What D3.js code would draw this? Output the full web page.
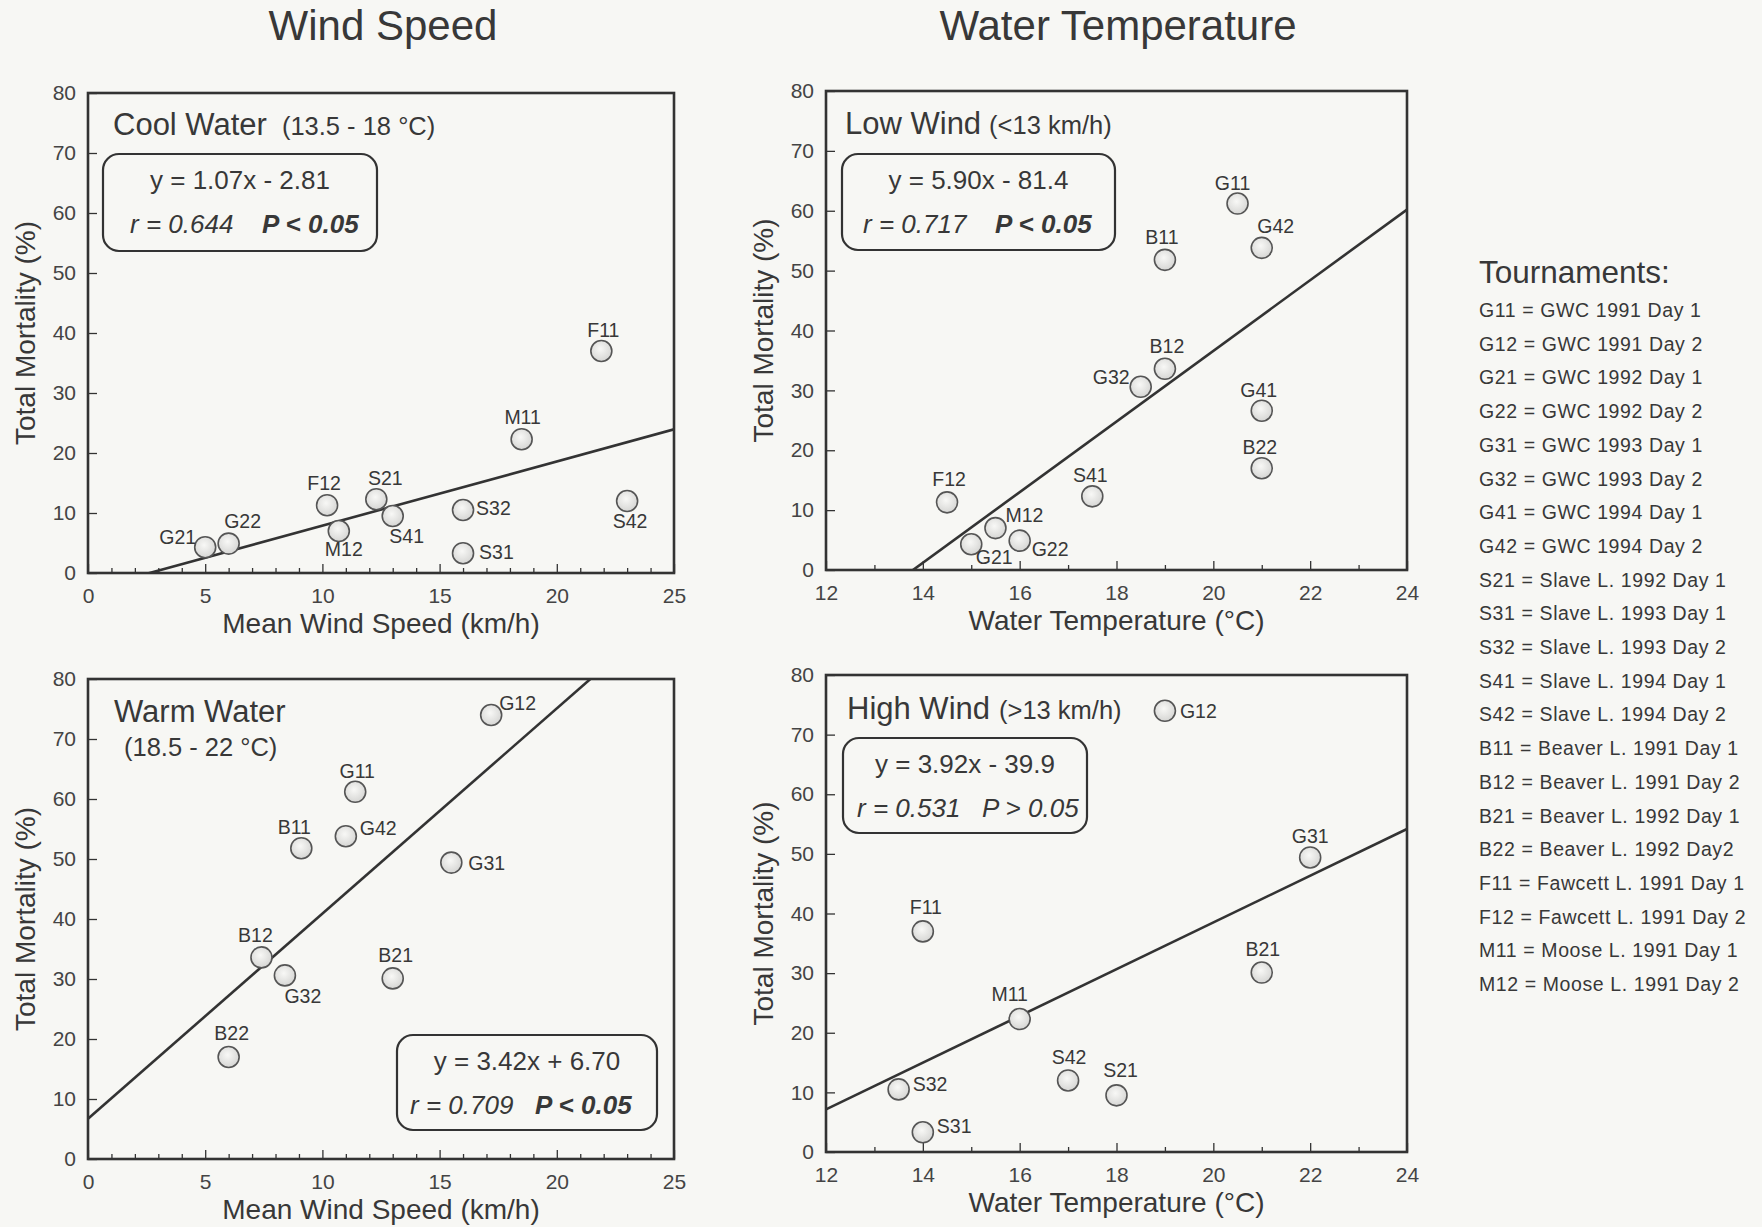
<!DOCTYPE html>
<html><head><meta charset="utf-8">
<script src="https://cdn.jsdelivr.net/npm/d3@7"></script>
<style>
body{margin:0;background:#f7f7f4;}
svg{display:block;font-family:"Liberation Sans",Arial,Helvetica,sans-serif;}
</style>
</head><body>
<svg id="chart" width="1762" height="1227"></svg>
<script>
// ---------- DATA ----------
const windTicks = [0, 5, 10, 15, 20, 25];
const tempTicks = [12, 14, 16, 18, 20, 22, 24];
const mortTicks = [0, 10, 20, 30, 40, 50, 60, 70, 80];

const coolIds  = ["G21","G22","F12","M12","S21","S41","S32","S31","M11","F11","S42"];
const coolWind = [5.0, 6.0, 10.2, 10.7, 12.3, 13.0, 16.0, 16.0, 18.5, 21.9, 23.0];
const coolMort = [4.3, 4.9, 11.3, 7.0, 12.3, 9.5, 10.5, 3.3, 22.3, 37.0, 12.0];

const lowIds  = ["F12","G21","M12","G22","S41","G32","B12","B11","G11","G42","G41","B22"];
const lowTemp = [14.5, 15.0, 15.5, 16.0, 17.5, 18.5, 19.0, 19.0, 20.5, 21.0, 21.0, 21.0];
const lowMort = [11.3, 4.3, 7.0, 4.9, 12.3, 30.6, 33.6, 51.8, 61.2, 53.8, 26.6, 17.0];

const warmIds  = ["B22","B12","G32","B11","G42","G11","B21","G31","G12"];
const warmWind = [6.0, 7.4, 8.4, 9.1, 11.0, 11.4, 13.0, 15.5, 17.2];
const warmMort = [17.0, 33.6, 30.6, 51.8, 53.8, 61.2, 30.1, 49.4, 74.0];

const highIds  = ["S32","S31","F11","M11","S42","S21","G12","B21","G31"];
const highTemp = [13.5, 14.0, 14.0, 16.0, 17.0, 18.0, 19.0, 21.0, 22.0];
const highMort = [10.5, 3.3, 37.0, 22.3, 12.0, 9.5, 74.0, 30.1, 49.4];

const slopes     = [1.07, 5.90, 3.42, 3.92];
const intercepts = [-2.81, -81.4, 6.70, -39.9];
const equations  = ["y = 1.07x - 2.81", "y = 5.90x - 81.4", "y = 3.42x + 6.70", "y = 3.92x - 39.9"];
const rTexts     = ["r = 0.644", "r = 0.717", "r = 0.709", "r = 0.531"];
const pTexts     = ["P < 0.05", "P < 0.05", "P < 0.05", "P > 0.05"];
const pSignificant = [true, true, true, false];

const panelTitles    = ["Cool Water", "Low Wind", "Warm Water", "High Wind"];
const panelSubtitles = ["(13.5 - 18 °C)", "(<13 km/h)", "(18.5 - 22 °C)", "(>13 km/h)"];
const columnTitles   = ["Wind Speed", "Water Temperature"];
const xTitles        = ["Mean Wind Speed (km/h)", "Water Temperature (°C)"];
const yTitle         = "Total Mortality (%)";

const legendTitle = "Tournaments:";
const legendItems = [
  "G11 = GWC 1991 Day 1","G12 = GWC 1991 Day 2","G21 = GWC 1992 Day 1","G22 = GWC 1992 Day 2",
  "G31 = GWC 1993 Day 1","G32 = GWC 1993 Day 2","G41 = GWC 1994 Day 1","G42 = GWC 1994 Day 2",
  "S21 = Slave L. 1992 Day 1","S31 = Slave L. 1993 Day 1","S32 = Slave L. 1993 Day 2",
  "S41 = Slave L. 1994 Day 1","S42 = Slave L. 1994 Day 2","B11 = Beaver L. 1991 Day 1",
  "B12 = Beaver L. 1991 Day 2","B21 = Beaver L. 1992 Day 1","B22 = Beaver L. 1992 Day2",
  "F11 = Fawcett L. 1991 Day 1","F12 = Fawcett L. 1991 Day 2","M11 = Moose L. 1991 Day 1",
  "M12 = Moose L. 1991 Day 2"
];

// ---------- LAYOUT (positions / styles) ----------
const labelOffsets = [
  {G21:[-9,-3,"end"],G22:[14,-16,"middle"],F12:[-3,-15,"middle"],M12:[5,25,"middle"],S21:[9,-14,"middle"],
   S41:[14,27,"middle"],S32:[13,5,"start"],S31:[16,6,"start"],M11:[1,-15,"middle"],F11:[2,-14,"middle"],S42:[3,27,"middle"]},
  {F12:[2,-16,"middle"],G21:[23,20,"middle"],M12:[10,-6,"start"],G22:[12,15,"start"],S41:[-2,-14,"middle"],
   G32:[-11,-3,"end"],B12:[2,-16,"middle"],B11:[-3,-16,"middle"],G11:[-5,-14,"middle"],G42:[14,-15,"middle"],
   G41:[-3,-14,"middle"],B22:[-2,-14,"middle"]},
  {G12:[8,-5,"start"],G11:[2,-14,"middle"],B11:[-7,-14,"middle"],G42:[14,-1,"start"],G31:[17,7,"start"],
   B12:[-6,-15,"middle"],G32:[18,28,"middle"],B21:[3,-16,"middle"],B22:[3,-17,"middle"]},
  {G12:[15,7,"start"],F11:[3,-17,"middle"],M11:[-10,-18,"middle"],S32:[14,2,"start"],S31:[14,1,"start"],
   S42:[1,-16,"middle"],S21:[4,-18,"middle"],B21:[1,-17,"middle"],G31:[0,-14,"middle"]}
];

const panels = [
  {ids:coolIds, xs:coolWind, ys:coolMort, xTicks:windTicks, minorStep:1, left:88,  right:674,  top:93,  bottom:573, col:0,
   title:[25,42], sub:{dx:15}, box:{x:15,y:61,w:274,h:97,r:27,p:159}},
  {ids:lowIds, xs:lowTemp, ys:lowMort, xTicks:tempTicks, minorStep:1, left:826, right:1407, top:91,  bottom:570, col:1,
   title:[19,43], sub:{dx:8}, box:{x:16,y:63,w:273,h:96,r:21,p:153}},
  {ids:warmIds, xs:warmWind, ys:warmMort, xTicks:windTicks, minorStep:1, left:88,  right:674,  top:679, bottom:1159, col:0,
   title:[26,43], sub:{newline:true,x:36,y:77}, box:{x:309,y:356,w:260,h:95,r:13,p:138}},
  {ids:highIds, xs:highTemp, ys:highMort, xTicks:tempTicks, minorStep:1, left:826, right:1407, top:675, bottom:1152, col:1,
   title:[21,44], sub:{dx:9}, box:{x:17,y:63,w:244,h:95,r:14,p:139}}
];

const ink = "#333";
const textInk = "#383838";

const svg = d3.select("#chart");
svg.append("rect").attr("width",1762).attr("height",1227).attr("fill","#f7f7f4");

const defs = svg.append("defs");
const grad = defs.append("radialGradient").attr("id","bub").attr("cx","45%").attr("cy","40%").attr("r","60%");
grad.append("stop").attr("offset","0%").attr("stop-color","#f8f8f6");
grad.append("stop").attr("offset","100%").attr("stop-color","#d6d6d4");

// column titles
[383, 1118].forEach((cx,i)=>{
  svg.append("text").attr("x",cx).attr("y",40).attr("text-anchor","middle")
    .attr("font-size",42).attr("fill",textInk).text(columnTitles[i]);
});

panels.forEach((p,i)=>{
  const xDom = [p.xTicks[0], p.xTicks[p.xTicks.length-1]];
  const x = d3.scaleLinear().domain(xDom).range([p.left,p.right]);
  const y = d3.scaleLinear().domain([0,80]).range([p.bottom,p.top]);
  const g = svg.append("g");
  const W = p.right-p.left, H = p.bottom-p.top;

  defs.append("clipPath").attr("id","clip"+i).append("rect")
    .attr("x",p.left).attr("y",p.top).attr("width",W).attr("height",H);

  // minor x ticks (inward)
  const minor = d3.range(xDom[0], xDom[1]+0.001, p.minorStep).filter(v=>!p.xTicks.includes(v));
  g.append("g").attr("transform",`translate(0,${p.bottom})`)
    .call(d3.axisBottom(x).tickValues(minor).tickSize(-5).tickFormat(""))
    .call(s=>{s.select(".domain").remove(); s.selectAll("line").attr("stroke",ink).attr("stroke-width",1.3);});
  // major x ticks
  g.append("g").attr("transform",`translate(0,${p.bottom})`)
    .call(d3.axisBottom(x).tickValues(p.xTicks).tickSize(-9).tickPadding(15).tickFormat(d3.format("d")))
    .call(s=>{s.select(".domain").remove();
      s.selectAll("line").attr("stroke",ink).attr("stroke-width",1.3);
      s.selectAll("text").attr("font-size",21).attr("fill","#444").attr("font-family","Liberation Sans, Arial, sans-serif");});
  // y ticks
  g.append("g").attr("transform",`translate(${p.left},0)`)
    .call(d3.axisLeft(y).tickValues(mortTicks).tickSize(-9).tickPadding(12).tickFormat(d3.format("d")))
    .call(s=>{s.select(".domain").remove();
      s.selectAll("line").attr("stroke",ink).attr("stroke-width",1.3);
      s.selectAll("text").attr("font-size",21).attr("fill","#444").attr("font-family","Liberation Sans, Arial, sans-serif");});

  // regression line
  const x0 = xDom[0], x1 = xDom[1];
  g.append("line").attr("clip-path",`url(#clip${i})`)
    .attr("x1",x(x0)).attr("y1",y(slopes[i]*x0+intercepts[i]))
    .attr("x2",x(x1)).attr("y2",y(slopes[i]*x1+intercepts[i]))
    .attr("stroke",ink).attr("stroke-width",2.6);

  // frame
  g.append("rect").attr("x",p.left).attr("y",p.top).attr("width",W).attr("height",H)
    .attr("fill","none").attr("stroke",ink).attr("stroke-width",2.6);

  // points
  const pts = p.ids.map((id,k)=>({id, xv:p.xs[k], yv:p.ys[k]}));
  g.selectAll("circle.pt").data(pts).join("circle").attr("class","pt")
    .attr("cx",d=>x(d.xv)).attr("cy",d=>y(d.yv)).attr("r",10.5)
    .attr("fill","url(#bub)").attr("stroke","#555").attr("stroke-width",1.6);
  g.selectAll("text.lbl").data(pts).join("text").attr("class","lbl")
    .attr("x",d=>x(d.xv)+labelOffsets[i][d.id][0])
    .attr("y",d=>y(d.yv)+labelOffsets[i][d.id][1])
    .attr("text-anchor",d=>labelOffsets[i][d.id][2])
    .attr("font-size",19.5).attr("fill",textInk).text(d=>d.id);

  // panel title
  const tx = p.left+p.title[0], ty = p.top+p.title[1];
  const t = g.append("text").attr("x",tx).attr("y",ty).attr("font-size",31).attr("fill",textInk).text(panelTitles[i]);
  if (p.sub.newline) {
    g.append("text").attr("x",p.left+p.sub.x).attr("y",p.top+p.sub.y).attr("font-size",25.5).attr("fill",textInk).text(panelSubtitles[i]);
  } else {
    const tw = t.node().getComputedTextLength();
    g.append("text").attr("x",tx+tw+p.sub.dx).attr("y",ty).attr("font-size",25.5).attr("fill",textInk).text(panelSubtitles[i]);
  }

  // equation box
  const bx = p.left+p.box.x, by = p.top+p.box.y;
  g.append("rect").attr("x",bx).attr("y",by).attr("width",p.box.w).attr("height",p.box.h)
    .attr("rx",16).attr("ry",16).attr("fill","none").attr("stroke",ink).attr("stroke-width",2.2);
  g.append("text").attr("x",bx+p.box.w/2).attr("y",by+35).attr("text-anchor","middle")
    .attr("font-size",26).attr("fill",textInk).text(equations[i]);
  g.append("text").attr("x",bx+p.box.r).attr("y",by+79).attr("font-size",26).attr("font-style","italic")
    .attr("fill",textInk).text(rTexts[i]);
  g.append("text").attr("x",bx+p.box.p).attr("y",by+79).attr("font-size",26).attr("font-style","italic")
    .attr("font-weight",pSignificant[i]?"bold":"normal").attr("fill",textInk).text(pTexts[i]);

  // axis titles
  g.append("text").attr("x",(p.left+p.right)/2).attr("y",p.bottom+60).attr("text-anchor","middle")
    .attr("font-size",28).attr("fill",textInk).text(xTitles[p.col]);
  g.append("text").attr("transform",`translate(${p.left-53},${(p.top+p.bottom)/2}) rotate(-90)`)
    .attr("text-anchor","middle").attr("font-size",28).attr("fill",textInk).text(yTitle);
});

// legend
const lg = svg.append("g");
lg.append("text").attr("x",1479).attr("y",283).attr("font-size",31.5).attr("fill",textInk).text(legendTitle);
lg.selectAll("text.item").data(legendItems).join("text").attr("class","item")
  .attr("x",1479).attr("y",(d,k)=>317+k*33.7).attr("font-size",19.5).attr("letter-spacing",0.6)
  .attr("fill",textInk).text(d=>d);
</script>
</body></html>
